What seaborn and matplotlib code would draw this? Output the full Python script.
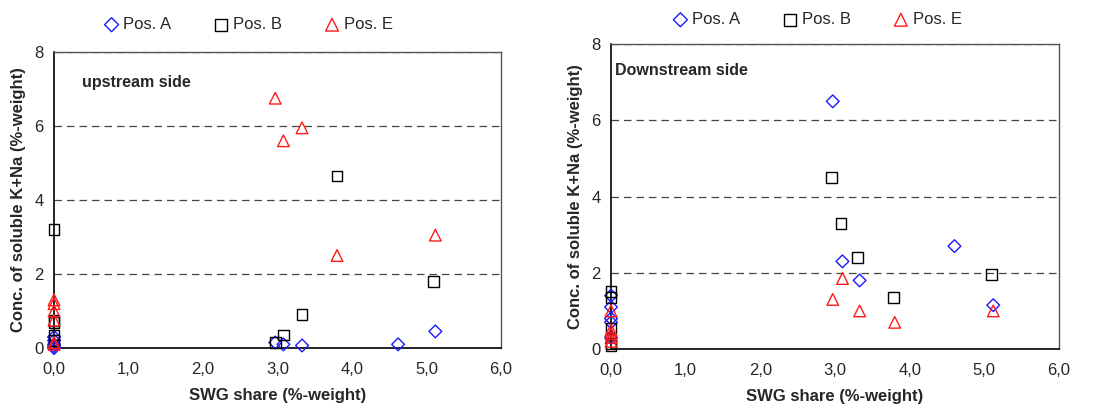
import numpy as np
import pandas as pd
import matplotlib
matplotlib.use('Agg')
import matplotlib.pyplot as plt
import seaborn as sn
from matplotlib.ticker import FuncFormatter

# dados - lado montante (upstream)
up_a_x = [0, 0, 0, 0, 0, 2.97, 3.08, 3.33, 4.62, 5.12]
up_a_y = [0.0, 0.05, 0.1, 0.2, 0.3, 0.15, 0.1, 0.07, 0.1, 0.45]
up_b_x = [0, 0, 0, 0, 0, 2.97, 3.08, 3.33, 3.8, 5.1]
up_b_y = [3.2, 0.75, 0.7, 0.35, 0.2, 0.15, 0.35, 0.9, 4.65, 1.8]
up_e_x = [0, 0, 0, 0, 0, 0, 2.97, 3.08, 3.33, 3.8, 5.12]
up_e_y = [1.3, 1.2, 1.0, 0.75, 0.15, 0.1, 6.75, 5.6, 5.95, 2.5, 3.05]

# lado jusante (downstream)
dn_a_x = [0, 0, 0, 0, 0, 2.97, 3.1, 3.33, 4.6, 5.12]
dn_a_y = [1.4, 1.1, 0.8, 0.7, 0.3, 6.5, 2.3, 1.8, 2.7, 1.15]
dn_b_x = [0, 0, 0, 0, 0, 2.95, 3.08, 3.3, 3.78, 5.1]
dn_b_y = [1.5, 1.35, 0.55, 0.15, 0.1, 4.5, 3.3, 2.4, 1.35, 1.95]
dn_e_x = [0, 0, 0, 0, 0, 2.97, 3.1, 3.33, 3.8, 5.12]
dn_e_y = [1.0, 0.5, 0.4, 0.3, 0.2, 1.3, 1.85, 1.0, 0.7, 1.0]

series_names = ['Pos. A', 'Pos. B', 'Pos. E']
x_ticks = [0, 1, 2, 3, 4, 5, 6]
y_ticks = [0, 2, 4, 6, 8]

def monta_df(ax_list, ay_list):
    partes = []
    for nome, (xs, ys) in zip(series_names, zip(ax_list, ay_list)):
        partes.append(pd.DataFrame({'x': xs, 'y': ys, 'pos': nome}))
    return pd.concat(partes, ignore_index=True)

df_up = monta_df([up_a_x, up_b_x, up_e_x], [up_a_y, up_b_y, up_e_y])
df_dn = monta_df([dn_a_x, dn_b_x, dn_e_x], [dn_a_y, dn_b_y, dn_e_y])

sn.set_style('white')
plt.rcParams['font.family'] = ['Liberation Sans', 'DejaVu Sans']

cores = {'Pos. A': '#1a1aff', 'Pos. B': 'black', 'Pos. E': '#ff1a1a'}
marcadores = {'Pos. A': 'D', 'Pos. B': 's', 'Pos. E': '^'}
tamanhos = {'Pos. A': 42, 'Pos. B': 60, 'Pos. E': 70}

fig = plt.figure(figsize=(10.96, 4.09), dpi=100)
ax1 = fig.add_axes([0.0493, 0.149, 0.4077, 0.724])
ax2 = fig.add_axes([0.5575, 0.1467, 0.4087, 0.7453])

def desenha(ax, df, texto, texto_x, texto_y):
    for nome in series_names:
        d = df[df['pos'] == nome]
        sn.scatterplot(data=d, x='x', y='y', ax=ax, marker=marcadores[nome],
                       s=tamanhos[nome], facecolor='none', edgecolor=cores[nome],
                       linewidth=1.0, label=nome, legend=False, zorder=3, clip_on=False)
    ax.set_xlim(0, 6)
    ax.set_ylim(0, 8)
    ax.set_xticks(x_ticks)
    ax.set_yticks(y_ticks)
    ax.xaxis.set_major_formatter(FuncFormatter(lambda v, p: f'{v:.1f}'.replace('.', ',')))
    ax.yaxis.set_major_formatter(FuncFormatter(lambda v, p: f'{v:.0f}'))
    for yv in [2, 4, 6, 8]:
        ax.axhline(yv, color='#444444', lw=0.9, ls=(0, (6, 4)), zorder=1)
    for lado in ['left', 'bottom']:
        ax.spines[lado].set_color('black')
        ax.spines[lado].set_linewidth(1.2)
    for lado in ['top', 'right']:
        ax.spines[lado].set_color('#555555')
        ax.spines[lado].set_linewidth(1.0)
    ax.tick_params(axis='both', direction='out', length=4, width=1, labelsize=12, color='black')
    ax.tick_params(axis='x', pad=6)
    ax.set_xlabel('SWG share (%-weight)', fontsize=12, fontweight='bold', labelpad=8)
    ax.set_ylabel('Conc. of soluble K+Na (%-weight)', fontsize=12, fontweight='bold', labelpad=6)
    ax.text(texto_x, texto_y, texto, fontsize=11.5, fontweight='bold', transform=ax.transData)
    h, l = ax.get_legend_handles_labels()
    return h, l

h1, l1 = desenha(ax1, df_up, 'upstream side', 0.38, 7.05)
h2, l2 = desenha(ax2, df_dn, 'Downstream side', 0.05, 7.2)

fig.legend(h1, l1, loc='center', bbox_to_anchor=(0.227, 0.94), ncol=3, frameon=False,
           fontsize=12, handlelength=0.8, handletextpad=0.3, columnspacing=2.6, markerscale=1.1)
fig.legend(h2, l2, loc='center', bbox_to_anchor=(0.746, 0.952), ncol=3, frameon=False,
           fontsize=12, handlelength=0.8, handletextpad=0.3, columnspacing=2.6, markerscale=1.1)

plt.savefig('out.png', dpi=100)
plt.close()
